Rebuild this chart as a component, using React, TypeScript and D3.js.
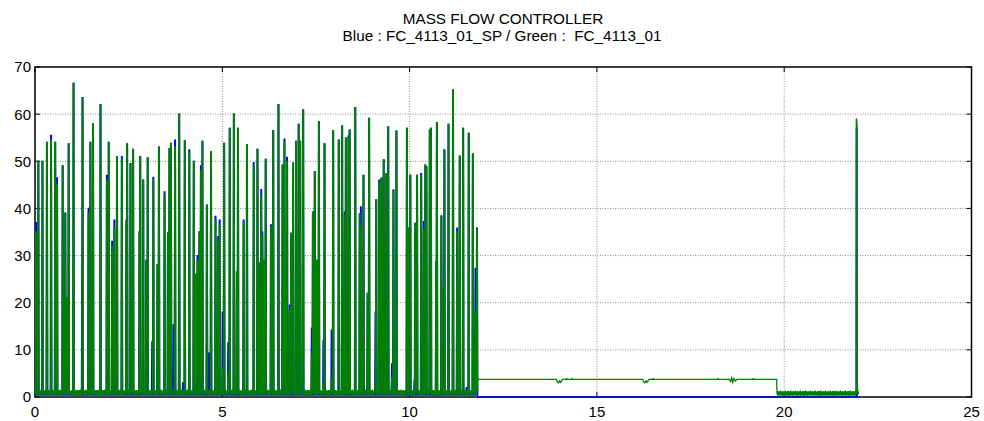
import React from 'react';
import * as d3 from 'd3';

const W = 984;
const H = 421;

const titleLines = ['MASS FLOW CONTROLLER', 'Blue : FC_4113_01_SP / Green :  FC_4113_01'];
const xTicks = [0, 5, 10, 15, 20, 25];
const yTicks = [0, 10, 20, 30, 40, 50, 60, 70];
const xGrid = [5, 10, 15, 20];
const yGrid = [10, 20, 30, 40, 50, 60];

// batch phase spikes: time, measured flow (green), setpoint (blue)
const spikeTimes = [
  0.02, 0.08, 0.19, 0.31, 0.42, 0.53, 0.58, 0.73, 0.80, 0.85, 0.89, 1.02, 1.25, 1.26, 1.42, 1.47, 1.54, 1.74,
  1.91, 1.96, 2.05, 2.11, 2.18, 2.31, 2.43, 2.45, 2.54, 2.58, 2.61, 2.78, 2.80, 2.88, 2.96, 3.00, 3.12, 3.15,
  3.26, 3.30, 3.45, 3.54, 3.58, 3.62, 3.69, 3.73, 3.84, 3.94, 3.99, 4.11, 4.23, 4.29, 4.33, 4.38, 4.42, 4.46,
  4.58, 4.64, 4.69, 4.81, 4.88, 4.92, 5.00, 5.04, 5.15, 5.19, 5.30, 5.38, 5.41, 5.56, 5.65, 5.83, 5.93, 5.97,
  6.03, 6.06, 6.09, 6.15, 6.29, 6.35, 6.49, 6.60, 6.65, 6.72, 6.79, 6.83, 6.88, 6.96, 7.03, 7.07, 7.15, 7.38,
  7.41, 7.46, 7.52, 7.57, 7.69, 7.72, 7.91, 7.95, 8.10, 8.19, 8.26, 8.29, 8.36, 8.39, 8.54, 8.66, 8.69, 8.76,
  8.87, 8.91, 9.08, 9.10, 9.18, 9.24, 9.30, 9.37, 9.42, 9.52, 9.56, 9.64, 9.92, 9.97, 10.01, 10.12, 10.14, 10.19,
  10.30, 10.37, 10.41, 10.44, 10.53, 10.56, 10.70, 10.72, 10.84, 10.87, 10.92, 11.03, 11.15, 11.26, 11.33, 11.42,
  11.51, 11.57, 11.68, 11.75, 11.79,
];
const greenPeaks = [
  35, 50, 50, 54, 54.5, 54, 45, 49, 39, 21, 53.7, 66.5, 0, 63.5, 39, 54, 58, 62,
  46, 54, 32, 36, 51, 50.5, 36.5, 53.7, 49.5, 13, 52.5, 35, 51, 46, 29, 50.7, 0, 46,
  28, 53, 43, 34.8, 52.7, 53.8, 0, 53, 60, 0, 54.3, 52, 50, 26, 29, 35, 48, 54.2,
  40.7, 0, 52, 37.5, 33, 36.5, 6, 53.8, 5, 57, 60, 26.5, 57, 37, 53.5, 49.2, 52.5, 28.4,
  43, 34, 29, 50.4, 36.1, 56.5, 62, 49.2, 54, 50, 18.5, 34.7, 49.6, 54.2, 57.8, 54.2, 60.9, 9,
  39.2, 47.8, 29, 58.4, 3, 53.7, 4, 56.5, 54.5, 57.5, 38.5, 54.9, 55, 56.6, 61.4, 38.8, 36, 47,
  22, 59.1, 2.6, 41.8, 45.5, 46.4, 50.3, 47.3, 57.3, 4, 43.9, 56.4, 57, 35.8, 47, 0, 36.8, 47,
  47, 35.5, 49.2, 48.8, 56.6, 57, 28, 58.2, 38, 23, 52.4, 57.8, 65.1, 35, 51.1, 57,
  0, 55.9, 51.5, 18, 35.5,
];
const bluePeaks = [
  37, 50, 50, 54, 55.5, 54, 46.5, 49, 39, 21, 53.7, 66.5, 28, 63.5, 40, 54, 58, 62,
  47, 54, 33, 37.5, 51, 51, 37.5, 53.7, 49.5, 13, 52.5, 35, 51, 46, 29, 50.7, 11.7, 46.6,
  28, 53, 43.5, 34.8, 52.7, 53.8, 15.3, 54.5, 60, 3, 54.3, 52.4, 50, 26, 30, 35, 49, 54.2,
  40.7, 9.3, 52, 38.3, 34, 37.5, 18, 53.8, 11.5, 57, 60, 26.5, 57, 37.5, 53.5, 49.7, 52.5, 28.4,
  44, 35, 29, 50.4, 36.5, 56.5, 62, 49.2, 54.7, 50.8, 19.5, 34.7, 49.6, 54.2, 57.8, 54.2, 60.9, 14.6,
  39.2, 47.8, 29, 58.4, 12, 53.7, 14.2, 56.5, 54.5, 57.5, 39.2, 54.9, 55.4, 56.6, 61.4, 38.8, 40.3, 47,
  22, 59.1, 18, 41.8, 46, 46.4, 50.3, 47.3, 57.3, 7, 43.9, 56.4, 57, 35.8, 47, 3.5, 36.8, 47,
  47.4, 37.2, 49.2, 48.8, 56.6, 57, 28.7, 58.2, 38.4, 23, 52.4, 57.8, 65.1, 35.8, 51.1, 57,
  2, 55.9, 51.5, 27.3, 35.8,
];
// green low-level fluctuation between spikes
const baseNoise = [
  0.3, 1.2, 0.6, 1.5, 0.2, 0.9, 1.4, 0.5, 1.1, 0.3, 1.6, 0.8, 0.4, 1.3, 0.7, 1.0, 0.2, 1.5, 0.6, 1.2,
  0.9, 0.4, 1.4, 0.3, 1.1, 0.7, 1.6, 0.5, 0.8, 1.3, 0.2, 1.0, 0.6, 1.5, 0.4, 1.2, 0.9, 0.3, 1.4, 0.7,
  1.1, 0.5, 1.6, 0.2, 0.8, 1.3, 0.6, 1.0, 0.4, 1.5,
];
// hold phase: green constant level with small disturbances
const plateauTimes = [
  11.81, 13.92, 13.94, 13.97, 14.0, 14.03, 14.06, 14.09, 14.19, 14.195, 14.2, 14.33, 14.335, 14.34,
  16.22, 16.25, 16.28, 16.31, 16.34, 16.37, 16.39, 16.5, 16.505, 16.51, 18.23, 18.235, 18.24,
  18.54, 18.57, 18.6, 18.63, 18.66, 18.7, 18.74, 19.17, 19.175, 19.18, 19.8,
];
const plateauValues = [
  3.75, 3.75, 3.3, 3.0, 3.4, 3.1, 3.5, 3.75, 3.75, 4.0, 3.75, 3.75, 4.0, 3.75,
  3.75, 3.2, 3.0, 3.4, 3.1, 3.5, 3.75, 3.75, 4.0, 3.75, 3.75, 4.0, 3.75,
  3.75, 3.3, 4.1, 3.1, 3.9, 3.4, 3.75, 3.75, 4.0, 3.75, 3.75,
];
// purge phase, then final spike
const tailStart = 19.81;
const tailEnd = 21.92;
const finalTimes = [21.92, 21.925, 21.935, 21.94, 21.945, 21.95, 21.97, 21.99];
const finalGreen = [0.8, 59.1, 58.8, 58.3, 57.5, 0.8, 1.2, 0.6];
const finalBlue = [0, 57, 57, 57, 57, 0, 0, 0];

type P = [number, number];

function buildSeries(peaks: number[], isGreen: boolean): P[] {
  const pts: P[] = [];
  let k = 0;
  let cursor = 0;
  const step = 0.008;
  const base = () => (isGreen ? baseNoise[k++ % baseNoise.length] : 0.4);
  for (let i = 0; i < spikeTimes.length; i++) {
    const t = spikeTimes[i];
    const start = Math.max(0, t - 0.01);
    while (cursor < start) {
      pts.push([cursor, base()]);
      cursor += step;
    }
    const pk = peaks[i];
    if (pk > 0) {
      pts.push([start, base()]);
      pts.push([t, pk]);
      pts.push([t + 0.018, pk]);
      pts.push([t + 0.028, base()]);
      cursor = Math.max(cursor, t + 0.028 + step);
    }
  }
  if (isGreen) {
    plateauTimes.forEach((t, i) => pts.push([t, plateauValues[i]]));
    let c = tailStart;
    while (c < tailEnd) {
      pts.push([c, baseNoise[k++ % baseNoise.length] * 0.85]);
      c += step;
    }
    finalTimes.forEach((t, i) => pts.push([t, finalGreen[i]]));
  } else {
    pts.push([11.81, 0]);
    finalTimes.forEach((t, i) => pts.push([t, finalBlue[i]]));
  }
  return pts;
}

export default function App() {
  const x = d3.scaleLinear().domain([0, 25]).range([35, 971.5]);
  const y = d3.scaleLinear().domain([0, 70]).range([397, 67]);
  const line = d3
    .line<P>()
    .x((d) => x(d[0]))
    .y((d) => y(d[1]));
  const green = buildSeries(greenPeaks, true);
  const blue = buildSeries(bluePeaks, false);
  const [x0, x1] = x.range();
  const [y0, y1] = y.range();
  const font = "'Liberation Sans', Arial, sans-serif";
  const tl = 5;
  return (
    <svg
      width={W}
      height={H}
      style={{ position: 'absolute', left: 0, top: 0, background: '#fff' }}
      fontFamily={font}
    >
      <rect x={0} y={0} width={W} height={H} fill="#fff" />
      <g fontSize={15.3} textAnchor="middle" fill="#000">
        <text x={503} y={24} style={{ whiteSpace: 'pre' }}>{titleLines[0]}</text>
        <text x={502} y={41} style={{ whiteSpace: 'pre' }}>{titleLines[1]}</text>
      </g>
      <g stroke="#8c8c8c" strokeWidth={1} strokeDasharray="1,1.5">
        {xGrid.map((v) => (
          <line key={'gx' + v} x1={x(v)} x2={x(v)} y1={y0} y2={y1} />
        ))}
        {yGrid.map((v) => (
          <line key={'gy' + v} x1={x0} x2={x1} y1={y(v)} y2={y(v)} />
        ))}
      </g>
      <g stroke="#000" strokeWidth={1}>
        {yTicks.map((v) => (
          <g key={'ty' + v}>
            <line x1={x0} x2={x0 + tl} y1={y(v)} y2={y(v)} />
            <line x1={x1} x2={x1 - tl} y1={y(v)} y2={y(v)} />
          </g>
        ))}
        {xTicks.map((v) => (
          <g key={'tx' + v}>
            <line x1={x(v)} x2={x(v)} y1={y0} y2={y0 - tl} />
            <line x1={x(v)} x2={x(v)} y1={y1} y2={y1 + tl} />
          </g>
        ))}
        <rect x={x0} y={y1} width={x1 - x0} height={y0 - y1} fill="none" strokeWidth={1.5} />
      </g>
      <path d={line(blue) || ''} fill="none" stroke="#0000ff" strokeWidth={1.3} />
      <path d={line(green) || ''} fill="none" stroke="#008000" strokeWidth={1.3} />
      <g fontSize={15} fill="#000">
        {yTicks.map((v) => (
          <text key={'ly' + v} x={31} y={y(v)} dy="0.36em" textAnchor="end">
            {v}
          </text>
        ))}
        {xTicks.map((v) => (
          <text key={'lx' + v} x={x(v)} y={417} textAnchor="middle">
            {v}
          </text>
        ))}
      </g>
    </svg>
  );
}
